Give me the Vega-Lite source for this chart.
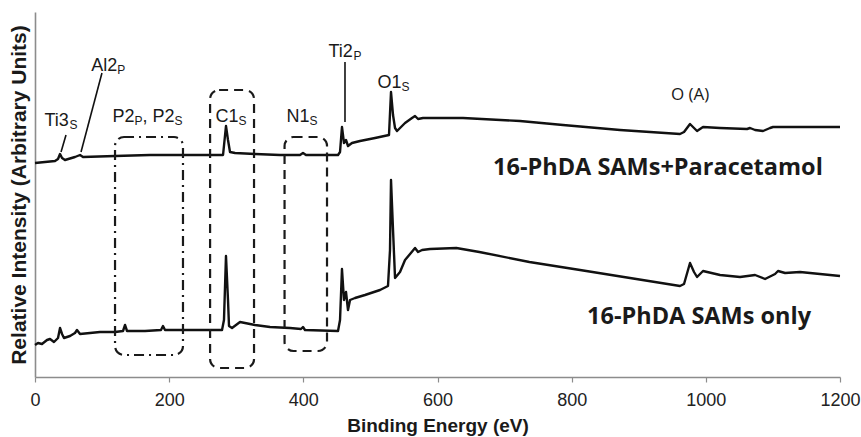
{
  "$schema": "https://vega.github.io/schema/vega-lite/v6.json",
  "width": 805,
  "height": 365,
  "autosize": "none",
  "padding": {"left": 35, "top": 12, "right": 21, "bottom": 60},
  "background": "white",
  "config": {"view": {"stroke": null}},
  "datasets": {
    "spectra": [
      {"series": "SAMs+Paracetamol", "e": 0, "i": 214},
      {"series": "SAMs+Paracetamol", "e": 14.9, "i": 215},
      {"series": "SAMs+Paracetamol", "e": 29.8, "i": 216},
      {"series": "SAMs+Paracetamol", "e": 34.3, "i": 218},
      {"series": "SAMs+Paracetamol", "e": 37.3, "i": 223},
      {"series": "SAMs+Paracetamol", "e": 40.3, "i": 219},
      {"series": "SAMs+Paracetamol", "e": 44.7, "i": 217},
      {"series": "SAMs+Paracetamol", "e": 59.6, "i": 220},
      {"series": "SAMs+Paracetamol", "e": 67.1, "i": 222},
      {"series": "SAMs+Paracetamol", "e": 71.6, "i": 220},
      {"series": "SAMs+Paracetamol", "e": 119.3, "i": 221},
      {"series": "SAMs+Paracetamol", "e": 171.4, "i": 222},
      {"series": "SAMs+Paracetamol", "e": 220.6, "i": 222},
      {"series": "SAMs+Paracetamol", "e": 260.9, "i": 222},
      {"series": "SAMs+Paracetamol", "e": 280.3, "i": 222},
      {"series": "SAMs+Paracetamol", "e": 284.7, "i": 251},
      {"series": "SAMs+Paracetamol", "e": 287.7, "i": 237},
      {"series": "SAMs+Paracetamol", "e": 290.7, "i": 225},
      {"series": "SAMs+Paracetamol", "e": 298.2, "i": 224},
      {"series": "SAMs+Paracetamol", "e": 328, "i": 223},
      {"series": "SAMs+Paracetamol", "e": 365.2, "i": 222},
      {"series": "SAMs+Paracetamol", "e": 395, "i": 222},
      {"series": "SAMs+Paracetamol", "e": 399.5, "i": 224},
      {"series": "SAMs+Paracetamol", "e": 404, "i": 222},
      {"series": "SAMs+Paracetamol", "e": 451.7, "i": 222},
      {"series": "SAMs+Paracetamol", "e": 454.7, "i": 225},
      {"series": "SAMs+Paracetamol", "e": 457.6, "i": 250},
      {"series": "SAMs+Paracetamol", "e": 460.6, "i": 234},
      {"series": "SAMs+Paracetamol", "e": 463.6, "i": 237},
      {"series": "SAMs+Paracetamol", "e": 466.6, "i": 231},
      {"series": "SAMs+Paracetamol", "e": 472.5, "i": 234},
      {"series": "SAMs+Paracetamol", "e": 484.5, "i": 236},
      {"series": "SAMs+Paracetamol", "e": 506.9, "i": 239},
      {"series": "SAMs+Paracetamol", "e": 527.7, "i": 242},
      {"series": "SAMs+Paracetamol", "e": 530.7, "i": 285},
      {"series": "SAMs+Paracetamol", "e": 533.7, "i": 262},
      {"series": "SAMs+Paracetamol", "e": 536.7, "i": 249},
      {"series": "SAMs+Paracetamol", "e": 539.7, "i": 246},
      {"series": "SAMs+Paracetamol", "e": 551.6, "i": 254},
      {"series": "SAMs+Paracetamol", "e": 562, "i": 259},
      {"series": "SAMs+Paracetamol", "e": 566.5, "i": 261},
      {"series": "SAMs+Paracetamol", "e": 571, "i": 258},
      {"series": "SAMs+Paracetamol", "e": 578.4, "i": 259},
      {"series": "SAMs+Paracetamol", "e": 588.9, "i": 259},
      {"series": "SAMs+Paracetamol", "e": 638, "i": 259},
      {"series": "SAMs+Paracetamol", "e": 723, "i": 256},
      {"series": "SAMs+Paracetamol", "e": 787.1, "i": 252},
      {"series": "SAMs+Paracetamol", "e": 872.1, "i": 247},
      {"series": "SAMs+Paracetamol", "e": 961.5, "i": 243},
      {"series": "SAMs+Paracetamol", "e": 967.5, "i": 245},
      {"series": "SAMs+Paracetamol", "e": 976.4, "i": 253},
      {"series": "SAMs+Paracetamol", "e": 982.4, "i": 249},
      {"series": "SAMs+Paracetamol", "e": 986.9, "i": 246},
      {"series": "SAMs+Paracetamol", "e": 995.8, "i": 250},
      {"series": "SAMs+Paracetamol", "e": 1021.2, "i": 249},
      {"series": "SAMs+Paracetamol", "e": 1061.4, "i": 248},
      {"series": "SAMs+Paracetamol", "e": 1065.9, "i": 249},
      {"series": "SAMs+Paracetamol", "e": 1073.4, "i": 247},
      {"series": "SAMs+Paracetamol", "e": 1085.3, "i": 246},
      {"series": "SAMs+Paracetamol", "e": 1095.7, "i": 249},
      {"series": "SAMs+Paracetamol", "e": 1100.2, "i": 250},
      {"series": "SAMs+Paracetamol", "e": 1140.4, "i": 250},
      {"series": "SAMs+Paracetamol", "e": 1200, "i": 250},
      {"series": "SAMs only", "e": 0, "i": 32},
      {"series": "SAMs only", "e": 4.5, "i": 34},
      {"series": "SAMs only", "e": 10.4, "i": 33},
      {"series": "SAMs only", "e": 17.9, "i": 37},
      {"series": "SAMs only", "e": 22.4, "i": 38},
      {"series": "SAMs only", "e": 28.3, "i": 35},
      {"series": "SAMs only", "e": 34.3, "i": 39},
      {"series": "SAMs only", "e": 37.3, "i": 49},
      {"series": "SAMs only", "e": 40.3, "i": 43},
      {"series": "SAMs only", "e": 43.2, "i": 39},
      {"series": "SAMs only", "e": 52.2, "i": 41},
      {"series": "SAMs only", "e": 59.6, "i": 44},
      {"series": "SAMs only", "e": 62.6, "i": 47},
      {"series": "SAMs only", "e": 67.1, "i": 43},
      {"series": "SAMs only", "e": 82, "i": 44},
      {"series": "SAMs only", "e": 96.9, "i": 45},
      {"series": "SAMs only", "e": 119.3, "i": 45},
      {"series": "SAMs only", "e": 131.2, "i": 46},
      {"series": "SAMs only", "e": 134.2, "i": 52},
      {"series": "SAMs only", "e": 137.2, "i": 46},
      {"series": "SAMs only", "e": 164, "i": 46},
      {"series": "SAMs only", "e": 187.8, "i": 47},
      {"series": "SAMs only", "e": 190.8, "i": 51},
      {"series": "SAMs only", "e": 193.8, "i": 47},
      {"series": "SAMs only", "e": 246, "i": 47},
      {"series": "SAMs only", "e": 278.8, "i": 47},
      {"series": "SAMs only", "e": 281.7, "i": 57},
      {"series": "SAMs only", "e": 284.7, "i": 121},
      {"series": "SAMs only", "e": 287.7, "i": 77},
      {"series": "SAMs only", "e": 289.2, "i": 51},
      {"series": "SAMs only", "e": 293.7, "i": 49},
      {"series": "SAMs only", "e": 305.6, "i": 55},
      {"series": "SAMs only", "e": 328, "i": 52},
      {"series": "SAMs only", "e": 350.3, "i": 50},
      {"series": "SAMs only", "e": 380.1, "i": 49},
      {"series": "SAMs only", "e": 396.5, "i": 48},
      {"series": "SAMs only", "e": 399.5, "i": 50},
      {"series": "SAMs only", "e": 402.5, "i": 47},
      {"series": "SAMs only", "e": 451.7, "i": 46},
      {"series": "SAMs only", "e": 454.7, "i": 57},
      {"series": "SAMs only", "e": 457.6, "i": 108},
      {"series": "SAMs only", "e": 460.6, "i": 77},
      {"series": "SAMs only", "e": 463.6, "i": 85},
      {"series": "SAMs only", "e": 466.6, "i": 67},
      {"series": "SAMs only", "e": 469.6, "i": 77},
      {"series": "SAMs only", "e": 477, "i": 79},
      {"series": "SAMs only", "e": 491.9, "i": 82},
      {"series": "SAMs only", "e": 514.3, "i": 87},
      {"series": "SAMs only", "e": 526.2, "i": 91},
      {"series": "SAMs only", "e": 529.2, "i": 127},
      {"series": "SAMs only", "e": 530.7, "i": 197},
      {"series": "SAMs only", "e": 533.7, "i": 147},
      {"series": "SAMs only", "e": 536.7, "i": 99},
      {"series": "SAMs only", "e": 544.1, "i": 105},
      {"series": "SAMs only", "e": 551.6, "i": 117},
      {"series": "SAMs only", "e": 559.1, "i": 123},
      {"series": "SAMs only", "e": 566.5, "i": 129},
      {"series": "SAMs only", "e": 571, "i": 125},
      {"series": "SAMs only", "e": 577, "i": 127},
      {"series": "SAMs only", "e": 588.9, "i": 128},
      {"series": "SAMs only", "e": 628.1, "i": 129},
      {"series": "SAMs only", "e": 662.4, "i": 125},
      {"series": "SAMs only", "e": 737, "i": 115},
      {"series": "SAMs only", "e": 812.5, "i": 107},
      {"series": "SAMs only", "e": 887, "i": 99},
      {"series": "SAMs only", "e": 961.5, "i": 91},
      {"series": "SAMs only", "e": 967.5, "i": 93},
      {"series": "SAMs only", "e": 976.4, "i": 114},
      {"series": "SAMs only", "e": 982.4, "i": 105},
      {"series": "SAMs only", "e": 986.9, "i": 100},
      {"series": "SAMs only", "e": 995.8, "i": 106},
      {"series": "SAMs only", "e": 1021.2, "i": 102},
      {"series": "SAMs only", "e": 1051, "i": 100},
      {"series": "SAMs only", "e": 1073.4, "i": 102},
      {"series": "SAMs only", "e": 1088.3, "i": 98},
      {"series": "SAMs only", "e": 1103.2, "i": 103},
      {"series": "SAMs only", "e": 1107.6, "i": 106},
      {"series": "SAMs only", "e": 1118.1, "i": 104},
      {"series": "SAMs only", "e": 1140.4, "i": 105},
      {"series": "SAMs only", "e": 1170.2, "i": 103},
      {"series": "SAMs only", "e": 1200, "i": 101}
    ],
    "boxes": [
      {"name": "P2", "style": "dashdot", "e1": 119.3, "e2": 220.6, "i1": 22, "i2": 240},
      {"name": "C1", "style": "dash", "e1": 261, "e2": 326.5, "i1": 9, "i2": 287},
      {"name": "N1", "style": "dash", "e1": 372, "e2": 435.3, "i1": 26, "i2": 240}
    ],
    "leaders": [
      {"name": "Ti3s", "e1": 46.2, "i1": 242, "e2": 38.8, "i2": 225},
      {"name": "Al2p", "e1": 99.8, "i1": 304, "e2": 68.6, "i2": 225},
      {"name": "Ti2p", "e1": 462.1, "i1": 315, "e2": 462.1, "i2": 255}
    ],
    "mainLabels": [
      {"t": "Al2", "e": 84, "i": 306},
      {"t": "Ti3", "e": 14, "i": 251},
      {"t": "P2", "e": 115.5, "i": 255},
      {"t": ", P2", "e": 160.3, "i": 255},
      {"t": "C1", "e": 269, "i": 255},
      {"t": "N1", "e": 375, "i": 255},
      {"t": "Ti2", "e": 437.5, "i": 320},
      {"t": "O1", "e": 510.5, "i": 289}
    ],
    "subLabels": [
      {"t": "P", "e": 122.6, "i": 303},
      {"t": "S", "e": 51.3, "i": 248},
      {"t": "P", "e": 148.3, "i": 252},
      {"t": "S", "e": 208, "i": 252},
      {"t": "S", "e": 303.2, "i": 252},
      {"t": "S", "e": 409.2, "i": 252},
      {"t": "P", "e": 474.8, "i": 317},
      {"t": "S", "e": 546.2, "i": 286}
    ],
    "seriesLabels": [
      {"t": "16-PhDA SAMs+Paracetamol", "e": 682.8, "i": 202},
      {"t": "16-PhDA SAMs only", "e": 822.9, "i": 53}
    ]
  },
  "layer": [
    {
      "data": {"name": "spectra"},
      "mark": {"type": "line", "color": "#111111", "strokeWidth": 2.4, "strokeJoin": "round"},
      "encoding": {
        "x": {
          "field": "e", "type": "quantitative",
          "scale": {"domain": [0, 1200], "nice": false},
          "axis": {
            "title": "Binding Energy (eV)",
            "values": [0, 200, 400, 600, 800, 1000, 1200],
            "format": "d",
            "grid": false,
            "domainColor": "#8c8c8c", "domainWidth": 1.6,
            "tickColor": "#8c8c8c", "tickWidth": 1.2, "tickSize": 5,
            "labelFont": "Liberation Sans", "labelFontSize": 18, "labelColor": "#222222",
            "labelPadding": 9, "labelFlush": false,
            "titleFont": "Liberation Sans", "titleFontSize": 19, "titleFontWeight": "bold",
            "titleColor": "#1a1a1a", "titlePadding": 7
          }
        },
        "y": {
          "field": "i", "type": "quantitative",
          "scale": {"domain": [0, 365], "nice": false},
          "axis": {
            "title": "Relative Intensity (Arbitrary Units)",
            "labels": false, "ticks": false, "grid": false,
            "domainColor": "#8c8c8c", "domainWidth": 1.6,
            "titleFont": "Liberation Sans", "titleFontSize": 21, "titleFontWeight": "bold",
            "titleColor": "#1a1a1a", "titlePadding": 6
          }
        },
        "detail": {"field": "series"}
      }
    },
    {
      "data": {"name": "boxes"},
      "transform": [{"filter": "datum.style == 'dashdot'"}],
      "mark": {"type": "rect", "fill": null, "filled": false, "stroke": "#1a1a1a", "strokeWidth": 2.2, "strokeDash": [10, 5, 2, 5], "cornerRadius": 9},
      "encoding": {
        "x": {"field": "e1", "type": "quantitative"},
        "x2": {"field": "e2"},
        "y": {"field": "i1", "type": "quantitative"},
        "y2": {"field": "i2"}
      }
    },
    {
      "data": {"name": "boxes"},
      "transform": [{"filter": "datum.style == 'dash'"}],
      "mark": {"type": "rect", "fill": null, "filled": false, "stroke": "#1a1a1a", "strokeWidth": 2.2, "strokeDash": [9, 6], "cornerRadius": 9},
      "encoding": {
        "x": {"field": "e1", "type": "quantitative"},
        "x2": {"field": "e2"},
        "y": {"field": "i1", "type": "quantitative"},
        "y2": {"field": "i2"}
      }
    },
    {
      "data": {"name": "leaders"},
      "mark": {"type": "rule", "color": "#111111", "strokeWidth": 1.6},
      "encoding": {
        "x": {"field": "e1", "type": "quantitative"},
        "y": {"field": "i1", "type": "quantitative"},
        "x2": {"field": "e2"},
        "y2": {"field": "i2"}
      }
    },
    {
      "data": {"name": "mainLabels"},
      "mark": {"type": "text", "align": "left", "baseline": "alphabetic", "font": "Liberation Sans", "fontSize": 18, "color": "#1a1a1a"},
      "encoding": {
        "x": {"field": "e", "type": "quantitative"},
        "y": {"field": "i", "type": "quantitative"},
        "text": {"field": "t"}
      }
    },
    {
      "data": {"name": "subLabels"},
      "mark": {"type": "text", "align": "left", "baseline": "alphabetic", "font": "Liberation Sans", "fontSize": 12, "color": "#1a1a1a"},
      "encoding": {
        "x": {"field": "e", "type": "quantitative"},
        "y": {"field": "i", "type": "quantitative"},
        "text": {"field": "t"}
      }
    },
    {
      "data": {"values": [{"t": "O (A)", "e": 948, "i": 277}]},
      "mark": {"type": "text", "align": "left", "baseline": "alphabetic", "font": "Open Sans", "fontSize": 17, "color": "#1a1a1a"},
      "encoding": {
        "x": {"field": "e", "type": "quantitative"},
        "y": {"field": "i", "type": "quantitative"},
        "text": {"field": "t"}
      }
    },
    {
      "data": {"name": "seriesLabels"},
      "mark": {"type": "text", "align": "left", "baseline": "alphabetic", "font": "Open Sans", "fontSize": 23.5, "fontWeight": "bold", "color": "#1a1a1a"},
      "encoding": {
        "x": {"field": "e", "type": "quantitative"},
        "y": {"field": "i", "type": "quantitative"},
        "text": {"field": "t"}
      }
    }
  ]
}
